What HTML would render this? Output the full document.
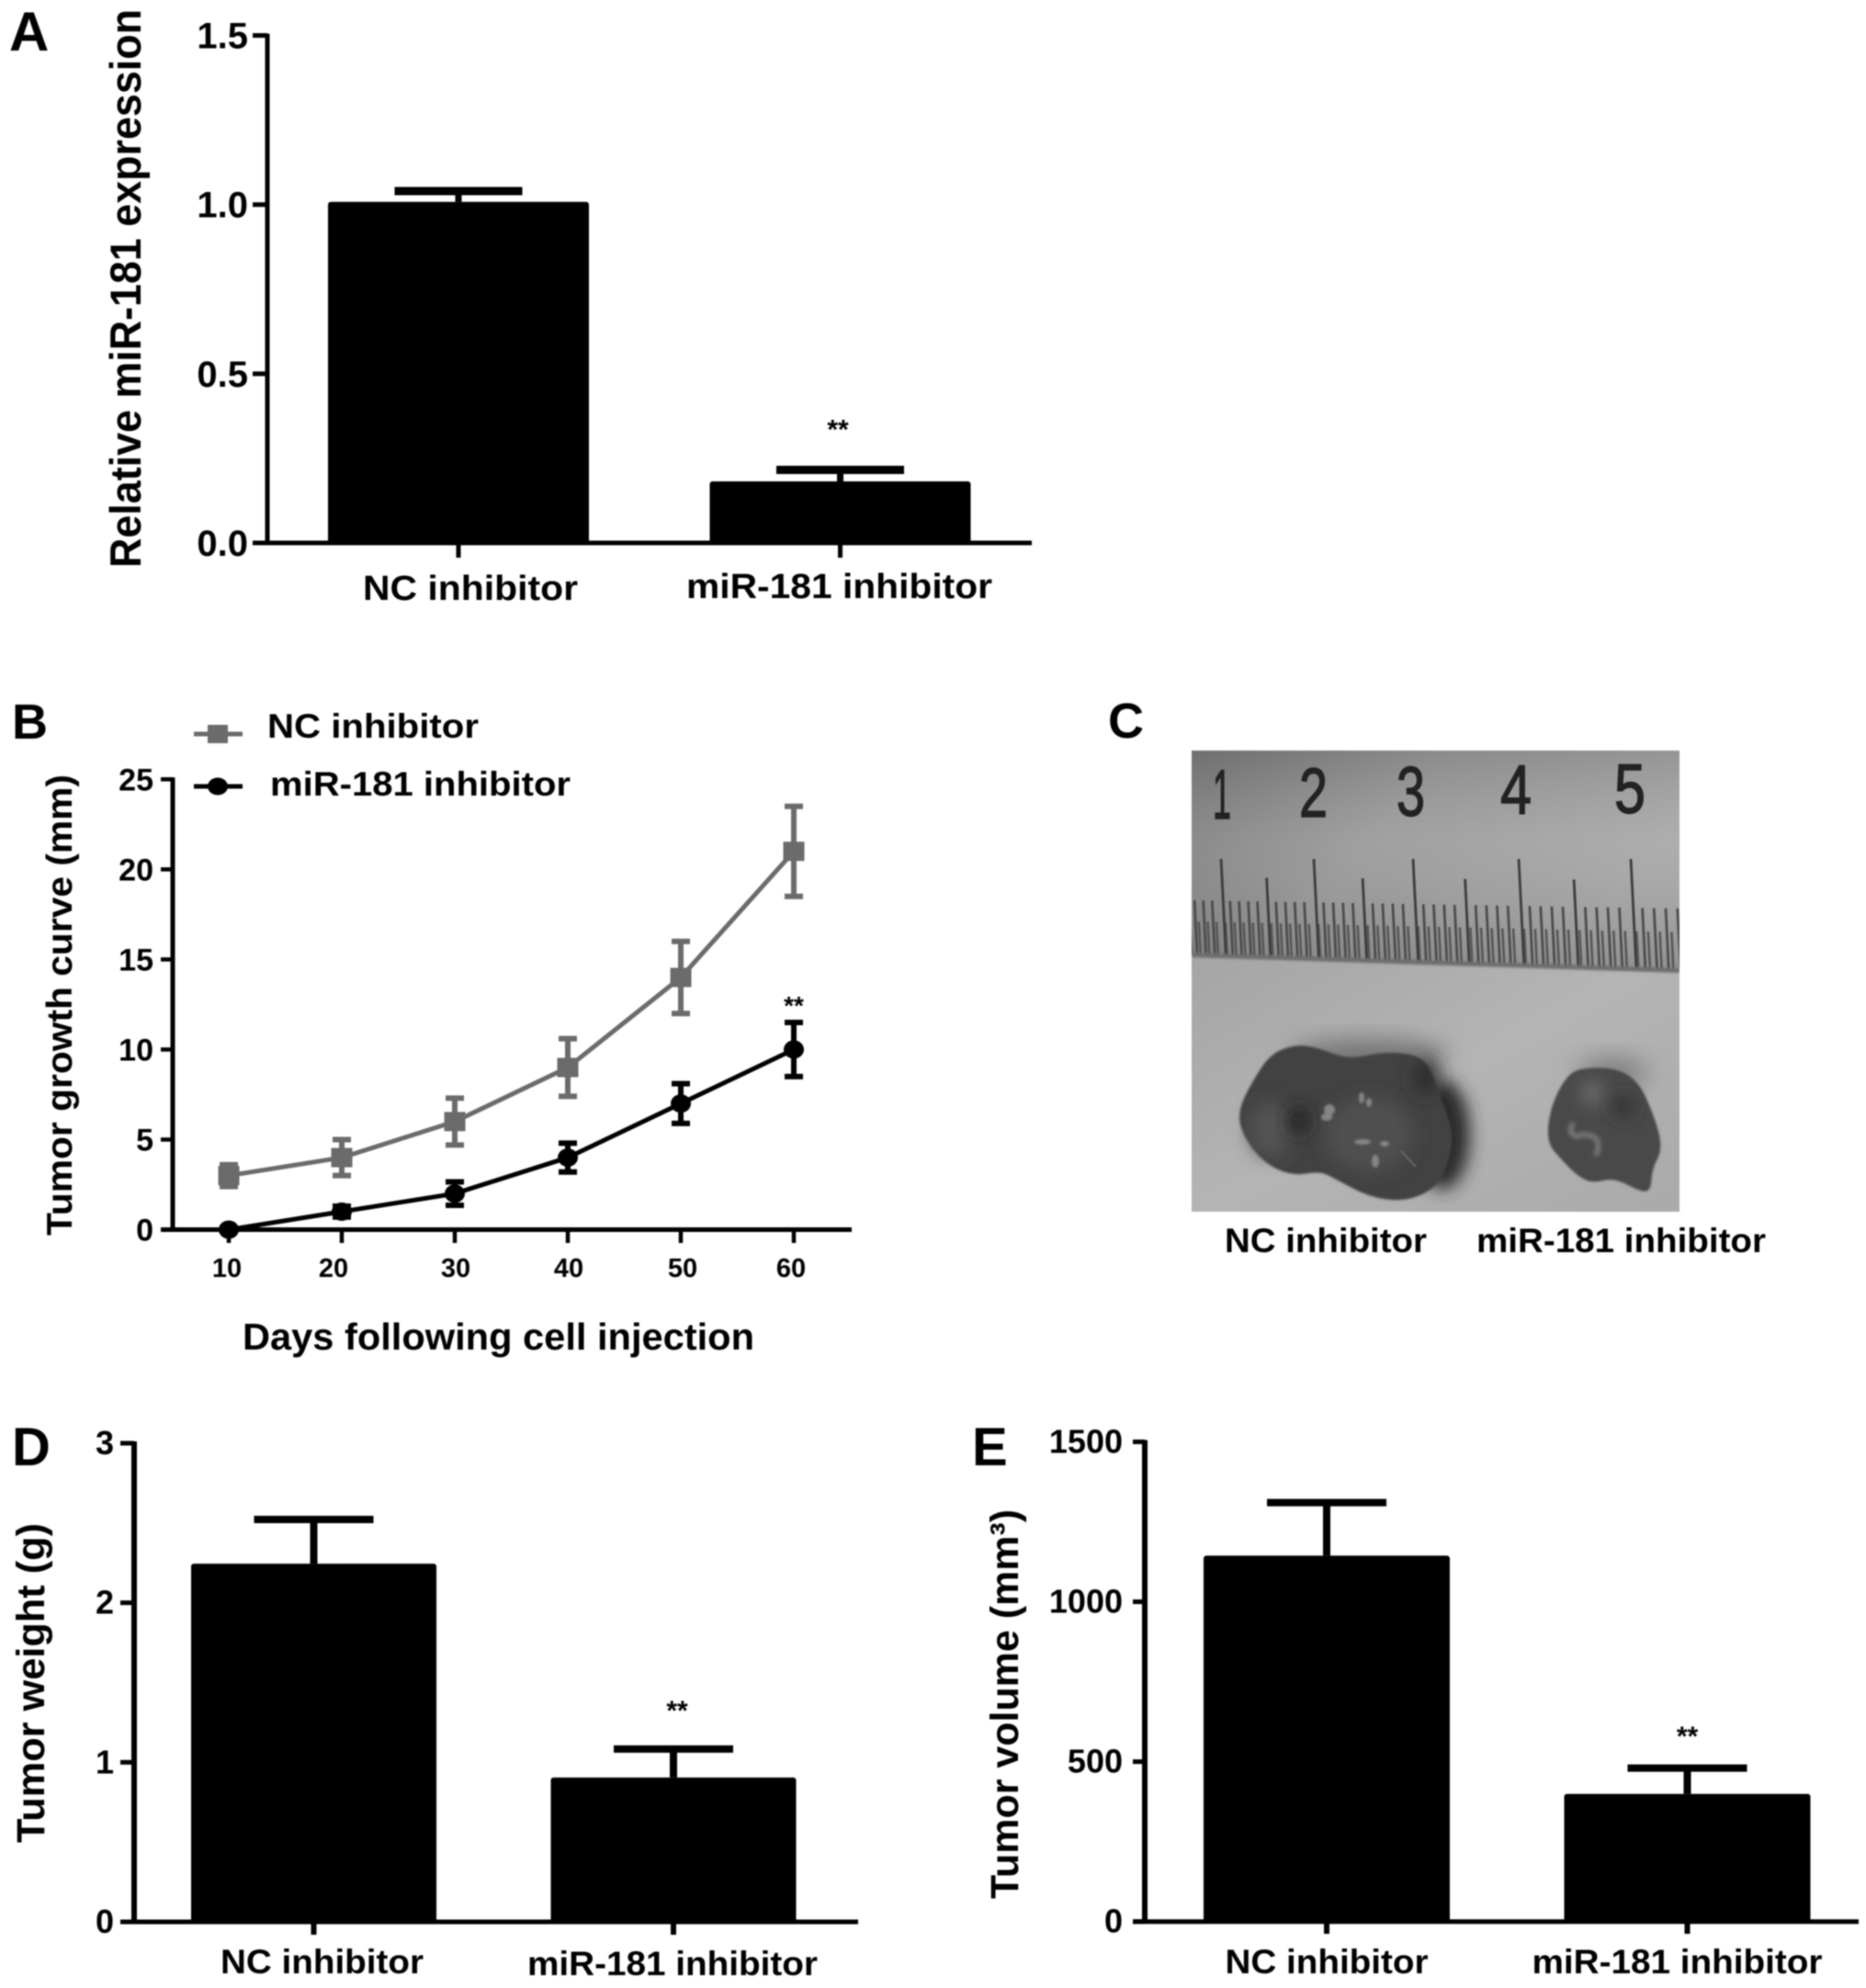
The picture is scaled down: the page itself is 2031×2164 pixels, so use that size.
<!DOCTYPE html>
<html lang="en">
<head>
<meta charset="utf-8">
<title>miR-181 inhibitor tumor figure</title>
<style>
html,body{margin:0;padding:0;background:#fff;width:2031px;height:2164px;overflow:hidden}
svg{display:block;filter:blur(.7px)}
text{font-family:"Liberation Sans",sans-serif;font-weight:bold;fill:#000}
</style>
</head>
<body>
<svg id="figure" xmlns="http://www.w3.org/2000/svg" width="2031" height="2164" viewBox="0 0 2031 2164">
<defs>
<linearGradient id="rulerBg" x1="0" y1="0" x2="1" y2="0.35">
<stop offset="0" stop-color="#7b7b7b"/><stop offset=".45" stop-color="#9a9a9a"/><stop offset="1" stop-color="#a8a8a8"/>
</linearGradient>
<linearGradient id="rulerFade" x1="0" y1="0" x2="0" y2="1">
<stop offset="0" stop-color="#000" stop-opacity=".1"/><stop offset=".4" stop-color="#fff" stop-opacity=".06"/><stop offset="1" stop-color="#000" stop-opacity=".14"/>
</linearGradient>
<linearGradient id="paperBg" x1="0" y1="0" x2="1" y2="1">
<stop offset="0" stop-color="#a4a4a4"/><stop offset=".5" stop-color="#b4b4b4"/><stop offset="1" stop-color="#a9a9a9"/>
</linearGradient>
<filter id="blur2" x="-30%" y="-30%" width="160%" height="160%"><feGaussianBlur stdDeviation="2.4"/></filter>
<filter id="blur1" x="-30%" y="-30%" width="160%" height="160%"><feGaussianBlur stdDeviation="1.1"/></filter>
<filter id="blur6" x="-60%" y="-60%" width="220%" height="220%"><feGaussianBlur stdDeviation="9"/></filter>
<filter id="blur12" x="-50%" y="-50%" width="200%" height="200%"><feGaussianBlur stdDeviation="13"/></filter>
<clipPath id="photoClip"><rect x="1297" y="817" width="531" height="502"/></clipPath>
</defs>

<!-- Panel letters -->
<text x="10" y="55" font-size="60">A</text>
<text x="13" y="804" font-size="54">B</text>
<text x="1206" y="803" font-size="54">C</text>
<text x="13" y="1595" font-size="58">D</text>
<text x="1058" y="1595" font-size="58">E</text>

<!-- Axis titles -->
<text transform="translate(153,618) rotate(-90)" font-size="47" textLength="608" lengthAdjust="spacingAndGlyphs">Relative miR-181 expression</text>
<text transform="translate(78,1345) rotate(-90)" font-size="39" textLength="502" lengthAdjust="spacingAndGlyphs">Tumor growth curve (mm)</text>
<text x="264" y="1469" font-size="41" textLength="557" lengthAdjust="spacingAndGlyphs">Days following cell injection</text>
<text transform="translate(48,2006) rotate(-90)" font-size="43" textLength="348" lengthAdjust="spacingAndGlyphs">Tumor weight (g)</text>
<text transform="translate(1108,2067) rotate(-90)" font-size="43" textLength="424" lengthAdjust="spacingAndGlyphs">Tumor volume (mm³)</text>

<!-- Panel B legend -->
<g>
<line x1="211" y1="799" x2="264" y2="799" stroke="#6b6b6b" stroke-width="5"/>
<rect x="226" y="789" width="22" height="20" fill="#6b6b6b"/>
<text x="291" y="803" font-size="37" textLength="230" lengthAdjust="spacingAndGlyphs">NC inhibitor</text>
</g>
<g>
<line x1="211" y1="856" x2="264" y2="856" stroke="#000" stroke-width="5"/>
<ellipse cx="237" cy="856" rx="11" ry="9.5" fill="#000"/>
<text x="294" y="866" font-size="37" textLength="327" lengthAdjust="spacingAndGlyphs">miR-181 inhibitor</text>
</g>

<!-- Panel C photograph, drawn with shapes -->
<g clip-path="url(#photoClip)">
<rect x="1297" y="1030" width="531" height="292" fill="url(#paperBg)"/>
<polygon points="1297,817 1828,817 1828,1056 1297,1039" fill="url(#rulerBg)"/>
<polygon points="1297,817 1828,817 1828,1056 1297,1039" fill="url(#rulerFade)"/>
<path id="rulerHalfMm" fill="none" stroke="#565656" stroke-width="2.6"/>
<path id="rulerMm" fill="none" stroke="#4c4c4c" stroke-width="2.8"/>
<path id="rulerCm" fill="none" stroke="#3c3c3c" stroke-width="2.8"/>
<polygon points="1297,1037 1828,1054 1828,1059 1297,1042" fill="#6e6e6e" filter="url(#blur1)"/>
<g>
<text x="1320" y="891" font-size="76" textLength="20" lengthAdjust="spacingAndGlyphs" style="font-weight:normal;fill:#222;stroke:#222;stroke-width:1.5">1</text>
<text x="1414" y="889" font-size="76" textLength="31" lengthAdjust="spacingAndGlyphs" style="font-weight:normal;fill:#222;stroke:#222;stroke-width:1.5">2</text>
<text x="1520" y="888" font-size="76" textLength="31" lengthAdjust="spacingAndGlyphs" style="font-weight:normal;fill:#222;stroke:#222;stroke-width:1.5">3</text>
<text x="1633" y="886" font-size="76" textLength="34" lengthAdjust="spacingAndGlyphs" style="font-weight:normal;fill:#222;stroke:#222;stroke-width:1.5">4</text>
<text x="1757" y="885" font-size="76" textLength="34" lengthAdjust="spacingAndGlyphs" style="font-weight:normal;fill:#222;stroke:#222;stroke-width:1.5">5</text>
</g>
<ellipse cx="1490" cy="1150" rx="85" ry="18" fill="#707070" filter="url(#blur12)"/>
<ellipse cx="1755" cy="1168" rx="38" ry="16" fill="#7c7c7c" filter="url(#blur12)"/>
<ellipse cx="1570" cy="1235" rx="30" ry="60" fill="#2c2c2c" filter="url(#blur6)"/>
<path class="smooth" data-pts="1410,1137 1383,1147 1363,1177 1347,1210 1353,1237 1377,1267 1407,1280 1437,1275 1453,1283 1490,1303 1527,1308 1557,1297 1573,1277 1583,1237 1570,1200 1557,1163 1543,1148 1507,1145 1473,1152 1453,1148 1433,1140" fill="#424242" filter="url(#blur1)"/>
<ellipse cx="1383" cy="1230" rx="24" ry="30" fill="#525252" filter="url(#blur6)"/>
<ellipse cx="1490" cy="1235" rx="48" ry="40" fill="#4f4f4f" filter="url(#blur6)"/>
<ellipse cx="1552" cy="1172" rx="14" ry="20" fill="#2e2e2e" filter="url(#blur6)"/>
<ellipse cx="1413" cy="1220" rx="11" ry="16" fill="#222" filter="url(#blur6)"/>
<g fill="#858585" filter="url(#blur1)">
<ellipse cx="1447" cy="1208" rx="6" ry="6"/><ellipse cx="1444" cy="1216" rx="6" ry="4"/><ellipse cx="1482" cy="1195" rx="3" ry="6"/><ellipse cx="1490" cy="1200" rx="3" ry="5"/><ellipse cx="1483" cy="1243" rx="9" ry="3"/><ellipse cx="1497" cy="1264" rx="4" ry="7"/><ellipse cx="1507" cy="1245" rx="5" ry="3"/>
</g>
<path d="M1525 1253L1541 1270" stroke="#6e6e6e" stroke-width="1.6" fill="none"/>
<path class="smooth" data-pts="1727,1162 1707,1168 1688,1203 1683,1243 1700,1263 1717,1280 1733,1288 1757,1282 1787,1298 1797,1295 1798,1273 1810,1250 1800,1213 1783,1177 1760,1163" fill="#4a4a4a" filter="url(#blur1)"/>
<ellipse cx="1733" cy="1190" rx="12" ry="14" fill="#6c6c6c" filter="url(#blur6)"/>
<ellipse cx="1767" cy="1204" rx="12" ry="12" fill="#333" filter="url(#blur6)"/>
<path d="M1712 1222Q1706 1235 1716 1237Q1728 1232 1738 1240Q1742 1252 1736 1258" stroke="#7c7c7c" stroke-width="5" fill="none" filter="url(#blur2)"/>
</g>
<text x="1333" y="1363" font-size="37" textLength="220" lengthAdjust="spacingAndGlyphs">NC inhibitor</text>
<text x="1607" y="1363" font-size="37" textLength="315" lengthAdjust="spacingAndGlyphs">miR-181 inhibitor</text>

<g id="panelA"></g>
<g id="panelB"></g>
<g id="panelD"></g>
<g id="panelE"></g>
</svg>

<script>
// Panel A data
const panelACategories = ['NC inhibitor', 'miR-181 inhibitor'];
const panelAValues = [1.008, 0.182];
const panelAErrors = [0.032, 0.034];
const panelASignificance = ['', '**'];
const panelATicks = [0, 0.5, 1.0, 1.5];
const panelATickLabels = ['0.0', '0.5', '1.0', '1.5'];

// Panel B data
const panelBDays = [10, 20, 30, 40, 50, 60];
const panelBDayLabels = ['10', '20', '30', '40', '50', '60'];
const panelBNcValues = [3, 4, 6, 9, 14, 21];
const panelBNcErrors = [0.6, 1, 1.3, 1.6, 2, 2.5];
const panelBMirValues = [0, 1, 2, 4, 7, 10];
const panelBMirErrors = [0, 0.3, 0.65, 0.8, 1.1, 1.5];
const panelBTicks = [0, 5, 10, 15, 20, 25];
const panelBTickLabels = ['0', '5', '10', '15', '20', '25'];

// Panel D data
const panelDCategories = ['NC inhibitor', 'miR-181 inhibitor'];
const panelDValues = [2.245, 0.905];
const panelDErrors = [0.277, 0.178];
const panelDSignificance = ['', '**'];
const panelDTicks = [0, 1, 2, 3];
const panelDTickLabels = ['0', '1', '2', '3'];

// Panel E data
const panelECategories = ['NC inhibitor', 'miR-181 inhibitor'];
const panelEValues = [1144, 399];
const panelEErrors = [166, 81];
const panelESignificance = ['', '**'];
const panelETicks = [0, 500, 1000, 1500];
const panelETickLabels = ['0', '500', '1000', '1500'];

const SVG_NS = 'http://www.w3.org/2000/svg';

function shape(parent, tag, attrs, content) {
  const node = document.createElementNS(SVG_NS, tag);
  for (const key in attrs) {
    node.setAttribute(key, attrs[key]);
  }
  if (content !== undefined) {
    node.textContent = content;
  }
  parent.appendChild(node);
  return node;
}

function linear(d0, d1, r0, r1) {
  return function (v) {
    return r0 + (v - d0) * (r1 - r0) / (d1 - d0);
  };
}

function drawYAxis(root, y, ticks, labels, o) {
  const axis = shape(root, 'line', { x1: o.axisX, x2: o.axisX, y1: y(ticks[ticks.length - 1]) - 2, y2: y(0) + 2, stroke: '#000', 'stroke-width': o.axisWidth });
  
  
  ticks.forEach(function (t, i) {
    const tick = shape(root, 'line', { x1: o.tickStart, x2: o.axisX, y1: y(t), y2: y(t), stroke: '#000', 'stroke-width': o.tickWidth });
    
    
    const attrs = { x: o.labelRight, y: y(t) + o.labelDy, 'font-size': o.labelSize, 'text-anchor': 'end' };
    const label = shape(root, 'text', attrs, labels[i]);
    
    
  });
}

function drawBarChart(root, categories, values, errors, stars, ticks, labels, o) {
  const y = linear(0, ticks[ticks.length - 1], o.y0, o.yMax);
  const x = linear(0, 1, o.cx0, o.cx1);

  values.forEach(function (v, i) {
    const cx = x(i);
    const bar = shape(root, 'rect', { x: cx - o.barW / 2, y: y(v), width: o.barW, height: o.y0 - y(v), rx: 3, fill: '#000' });
    
    
    const stem = shape(root, 'line', { x1: cx, x2: cx, y1: y(v), y2: y(v + errors[i]), stroke: '#000', 'stroke-width': o.stemW });
    
    
    const cap = shape(root, 'line', { x1: cx - o.capW / 2, x2: cx + o.capW / 2, y1: y(v + errors[i]), y2: y(v + errors[i]), stroke: '#000', 'stroke-width': o.capT });
    
    
    const tick = shape(root, 'line', { x1: cx, x2: cx, y1: o.y0, y2: o.tickBottom, stroke: '#000', 'stroke-width': o.stemW - 2 });
    
    
    const cat = shape(root, 'text', { x: cx + o.catDx[i], y: o.catY[i], 'font-size': o.catSize, 'text-anchor': 'middle', textLength: o.catW[i], lengthAdjust: 'spacingAndGlyphs' }, categories[i]);
    
    
    if (stars[i]) {
      const star = shape(root, 'text', { x: cx + o.starDx, y: y(v + errors[i]) - o.starGap, 'font-size': 30, 'text-anchor': 'middle' }, stars[i]);
      
      
    }
  });

  const xAxis = shape(root, 'line', { x1: o.tickStart, x2: o.xAxisEnd, y1: o.y0, y2: o.y0, stroke: '#000', 'stroke-width': o.xAxisWidth });
  
  
  drawYAxis(root, y, ticks, labels, o);
}

function drawLineChart(root) {
  const y = linear(0, 25, 1338.5, 848.3);
  const x = linear(10, 60, 249, 864);
  const xTickLabelNudge = [-2, -9, 1, 1, 2, -3];

  const xAxis = shape(root, 'line', { x1: 175, x2: 927, y1: y(0), y2: y(0), stroke: '#000', 'stroke-width': 5 });
  
  
  drawYAxis(root, y, panelBTicks, panelBTickLabels, { axisX: 188, axisWidth: 5, tickStart: 175, tickWidth: 4.5, labelRight: 167, labelDy: 12, labelSize: 34 });

  panelBDays.forEach(function (d, i) {
    const tick = shape(root, 'line', { x1: x(d), x2: x(d), y1: y(0), y2: 1353, stroke: '#000', 'stroke-width': 4.5 });
    
    
    const label = shape(root, 'text', { x: x(d) + xTickLabelNudge[i], y: 1390, 'font-size': 29, 'text-anchor': 'middle' }, panelBDayLabels[i]);
    
    
  });

  function series(values, errors, color, useSquare) {
    const path = shape(root, 'polyline', { points: values.map(function (v, i) { return x(panelBDays[i]) + ',' + y(v); }).join(' '), fill: 'none', stroke: color, 'stroke-width': 5, 'stroke-linejoin': 'round' });
    
    
    values.forEach(function (v, i) {
      const px = x(panelBDays[i]);
      const top = y(v + errors[i]);
      const bottom = y(v - errors[i]);
      const bar = shape(root, 'path', { d: 'M' + (px - 10) + ' ' + top + 'H' + (px + 10) + 'M' + px + ' ' + top + 'V' + bottom + 'M' + (px - 10) + ' ' + bottom + 'H' + (px + 10), fill: 'none', stroke: color, 'stroke-width': 6 });
      
      
      if (useSquare) {
        const sq = shape(root, 'rect', { x: px - 11.5, y: y(v) - 10.5, width: 23, height: 21, fill: color });
        
        
      } else {
        const dot = shape(root, 'ellipse', { cx: px, cy: y(v), rx: 11, ry: 10, fill: color });
        
        
      }
    });
  }
  series(panelBNcValues, panelBNcErrors, '#6b6b6b', true);
  series(panelBMirValues, panelBMirErrors, '#000', false);

  const star = shape(root, 'text', { x: x(60), y: y(panelBMirValues[5] + panelBMirErrors[5]) - 9, 'font-size': 28, 'text-anchor': 'middle' }, '**');
  
  
}

function drawRuler() {
  const xAt = function (t) { return 1329 + 97.5 * t + 3.5 * t * t; };
  const bottomAt = function (px) { return 1039 + (px - 1296) * 0.032; };
  let half = '', mm = '', cm = '';
  for (let n = -7; n <= 89; n++) {
    const t = n / 20;
    const top = xAt(t);
    if (top > 1840 || top < 1285) { continue; }
    const lean = 0.05;
    const bottom = bottomAt(top);
    let start;
    if (n % 20 === 0) { start = 935; }
    else if (n % 10 === 0) { start = 955 + (top - 1296) * 0.006; }
    else if (n % 2 === 0) { start = 980 + (top - 1296) * 0.017; }
    else { start = 1003 + (top - 1296) * 0.022; }
    const seg = 'M' + top.toFixed(1) + ' ' + start.toFixed(1) + 'L' + (top + (bottom - start) * lean).toFixed(1) + ' ' + bottom.toFixed(1);
    if (n % 10 === 0) { cm += seg; }
    else if (n % 2 === 0) { mm += seg; }
    else { half += seg; }
  }
  document.getElementById('rulerHalfMm').setAttribute('d', half);
  document.getElementById('rulerMm').setAttribute('d', mm);
  document.getElementById('rulerCm').setAttribute('d', cm);
}

function smoothOutlines() {
  document.querySelectorAll('path.smooth').forEach(function (p) {
    const pts = p.getAttribute('data-pts').split(' ').map(function (s) { return s.split(',').map(Number); });
    const n = pts.length;
    let d = '';
    for (let i = 0; i < n; i++) {
      const a = pts[i];
      const b = pts[(i + 1) % n];
      const mx = (a[0] + b[0]) / 2;
      const my = (a[1] + b[1]) / 2;
      if (i === 0) {
        const l = pts[n - 1];
        d += 'M' + (l[0] + a[0]) / 2 + ' ' + (l[1] + a[1]) / 2;
      }
      d += 'Q' + a[0] + ' ' + a[1] + ' ' + mx + ' ' + my;
    }
    p.setAttribute('d', d + 'Z');
    p.removeAttribute('data-pts');
  });
}

drawRuler();
smoothOutlines();

drawBarChart(document.getElementById('panelA'), panelACategories, panelAValues, panelAErrors, panelASignificance, panelATicks, panelATickLabels, {
  y0: 591, yMax: 38.6, cx0: 499, cx1: 914.5, barW: 284, stemW: 7, capW: 139, capT: 9,
  tickBottom: 607, catDx: [13, -1], catY: [653, 651], catSize: 38, catW: [234, 333], starDx: -2.5, starGap: 34,
  tickStart: 275, xAxisEnd: 1123, xAxisWidth: 5, axisX: 291, axisWidth: 5, tickWidth: 5, labelRight: 270, labelDy: 14, labelSize: 40
});

drawLineChart(document.getElementById('panelB'));

drawBarChart(document.getElementById('panelD'), panelDCategories, panelDValues, panelDErrors, panelDSignificance, panelDTicks, panelDTickLabels, {
  y0: 2092, yMax: 1571, cx0: 341.5, cx1: 733, barW: 267, stemW: 8, capW: 130, capT: 8,
  tickBottom: 2106, catDx: [9, -1], catY: [2148, 2150], catSize: 37, catW: [221, 316], starDx: 4, starGap: 32,
  tickStart: 131, xAxisEnd: 934, xAxisWidth: 5, axisX: 146, axisWidth: 6, tickWidth: 5, labelRight: 124, labelDy: 12, labelSize: 36
});

drawBarChart(document.getElementById('panelE'), panelECategories, panelEValues, panelEErrors, panelESignificance, panelETicks, panelETickLabels, {
  y0: 2091.7, yMax: 1569.5, cx0: 1444, cx1: 1836.5, barW: 268, stemW: 8, capW: 130, capT: 8,
  tickBottom: 2105, catDx: [0, -11], catY: [2148, 2148], catSize: 37, catW: [221, 316], starDx: 0, starGap: 24.5,
  tickStart: 1233, xAxisEnd: 2023, xAxisWidth: 5, axisX: 1246, axisWidth: 6, tickWidth: 5, labelRight: 1222, labelDy: 12, labelSize: 36
});
</script>
</body>
</html>
